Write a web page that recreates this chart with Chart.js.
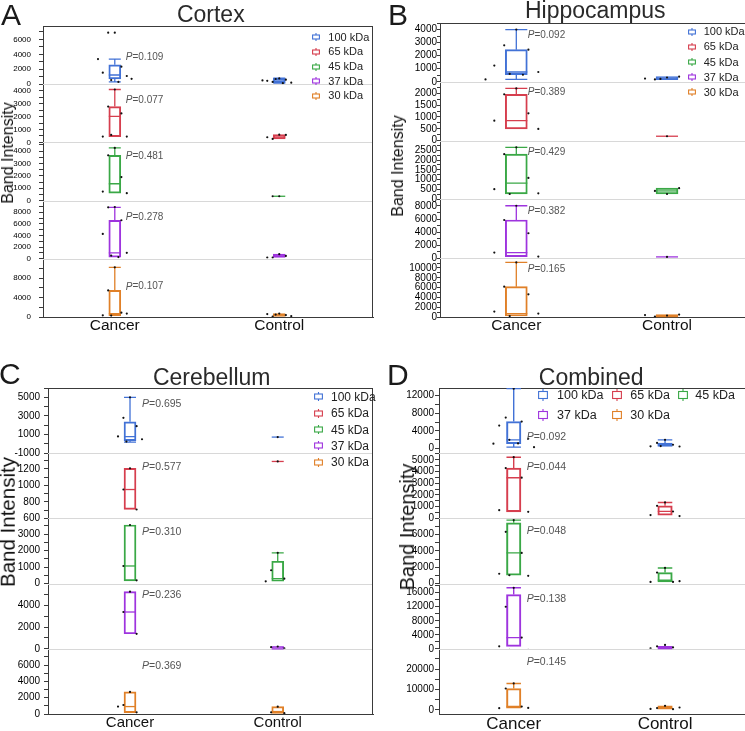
<!DOCTYPE html>
<html>
<head>
<meta charset="utf-8">
<script src="https://cdn.jsdelivr.net/npm/chart.js@4/dist/chart.umd.min.js"></script>
<style>
html,body{margin:0;padding:0;background:#fff;width:745px;height:731px;overflow:hidden;font-family:"Liberation Sans",Arial,Helvetica,sans-serif;}
.abs{position:absolute;white-space:nowrap;color:#222;line-height:1;}
canvas{position:absolute;}
.title{transform:translateX(-50%);}
.ytitle{transform:translate(-50%,-50%) rotate(-90deg);}
</style>
</head>
<body>
<div id="root"></div>
<script>
// ---------------- DATA ----------------
const BANDS = ['100 kDa', '65 kDa', '45 kDa', '37 kDa', '30 kDa'];
const GROUPS = ['Cancer', 'Control'];

// box stats: [min, q1, median, q3, max] per band
// Cortex
const cortexCancer = [[310,720,1230,2590,3370],[450,450,2015,2770,4090],[600,600,1360,3660,4250],[290,290,1000,6615,8840],[290,290,700,5470,10230]];
const cortexControl = [[140,200,450,780,800],[270,270,420,600,600],[350,350,350,350,350],[220,220,500,800,800],[100,100,400,700,700]];
const cortexCancerPts = [[6900,6900,2350,1550,1100,550,300,3370,720],[4090,2770,2240,450,450,580],[4250,3660,1900,730,600],[8890,8840,6615,4270,1020,560,290],[10230,5470,900,350,700,300]];
const cortexControlPts = [[780,300,600,450,200,700,140,500],[600,270,580,400],[350,350],[800,220,500,220],[700,100,400,600,200,500]];
const cortexP = ['0.109','0.077','0.481','0.278','0.107'];
const cortexYMin = [0,0,0,0,0];
const cortexYMax = [7800,4500,4700,9990,11990];
const cortexTickStep = [1000,500,500,1000,2000];
const cortexLabelStep = [2000,1000,1000,2000,4000];
const cortexLabelBase = [0,0,0,0,0];

// Hippocampus
const hippoCancer = [[180,540,750,2460,4000],[495,495,845,1960,2210],[275,275,830,2300,2650],[250,250,860,5850,8030],[200,200,700,6190,11130]];
const hippoControl = [[180,200,300,390,390],[185,185,185,185,185],[275,275,430,570,570],[200,200,200,200,200],[100,150,300,500,500]];
const hippoCancerPts = [[4000,2790,2460,1240,750,600,540,180],[2210,1960,1155,845,495],[2650,2300,1090,520,310,275],[8030,5850,3820,860,250],[11130,6190,4620,1100,700,200]];
const hippoControlPts = [[330,180,390,250,300,220],[185],[275,430,570],[200],[300,100,500,400]];
const hippoP = ['0.092','0.389','0.429','0.382','0.165'];
const hippoYMin = [0,0,0,0,0];
const hippoYMax = [4500,2490,2990,9000,11990];
const hippoTickStep = [500,250,250,1000,1000];
const hippoLabelStep = [1000,500,500,2000,2000];
const hippoLabelBase = [0,0,0,0,0];

// Cerebellum
const cereCancer = [[180,350,780,2370,5000],[708,708,950,1207,1207],[160,160,1070,3560,3560],[1380,1380,3380,5250,5250],[160,160,910,2710,2710]];
const cereControl = [[730,730,730,730,730],[1290,1290,1290,1290,1290],[140,140,300,1360,1870],[0,50,150,210,210],[0,0,300,910,910]];
const cereCancerPts = [[5000,2800,1900,800,500,250],[1207,950,708],[3560,1070,200],[5250,3380,1380,-250,-250],[2700,1100,200,910]];
const cereControlPts = [[730],[1290],[1870,810,300,140],[210,150,50],[900,200,100]];
const cereP = ['0.695','0.577','0.310','0.236','0.369'];
const cereYMin = [-1000,600,0,0,0];
const cereYMax = [6000,1390,3960,5990,7990];
const cereTickStep = [1000,100,500,1000,1000];
const cereLabelStep = [2000,200,1000,2000,2000];
const cereLabelBase = [1000,0,0,0,0];

// Combined
const combCancer = [[360,1130,2000,6100,13500],[560,560,3470,4290,5220],[1020,1020,3750,7420,7750],[650,650,3200,15500,17400],[850,850,1650,10500,13000]];
const combControl = [[550,550,900,1300,2000],[280,280,600,1070,1360],[200,200,400,1350,1910],[100,150,400,700,700],[350,350,900,2000,2000]];
const combCancerPts = [[13500,7000,6100,5200,2250,2000,1200,1130,350],[5220,4290,3470,700,560],[7750,6320,3750,1200,950,1020],[17400,12000,3200,700,-300,-300],[13000,10500,1650,850,1000]];
const combControlPts = [[2000,1300,900,550,500,600],[1360,1070,590,280,200],[1910,1350,200,200,300],[1100,700,400,150],[2000,900,350,500,1200]];
const combP = ['0.092','0.044','0.048','0.138','0.145'];
const combYMin = [-1000,0,0,0,-2000];
const combYMax = [13650,5560,7960,18600,29990];
const combTickStep = [2000,500,1000,2000,5000];
const combLabelStep = [4000,1000,2000,4000,10000];
const combLabelBase = [0,0,0,0,0];

// ---------------- STYLE ----------------
const COLORS = ['rgb(66,114,214)','rgb(214,62,78)','rgb(58,168,70)','rgb(158,52,222)','rgb(224,128,40)'];
const FRAME = '#3a3a3a';
const SEP = '#d8d8d8';
const JITTER = [0,-0.55,0.55,-1.0,1.0,-0.3,0.3,-1.4,1.4];
Chart.defaults.font.family = "'Liberation Sans', Arial, Helvetica, sans-serif";
Chart.defaults.animation = false;

const panels = [
  { letter:'A', title:'Cortex', cancer:cortexCancer, control:cortexControl, cancerPts:cortexCancerPts, controlPts:cortexControlPts,
    p:cortexP, yMin:cortexYMin, yMax:cortexYMax, tickStep:cortexTickStep, labelStep:cortexLabelStep, labelBase:cortexLabelBase,
    S:{left:0,top:0,w:380,h:340,pad:{left:0,top:26,right:7,bottom:0},yw:43,xh:23,xMin:0.5635,xMax:2.570,areaW:330,bw:12,lw:1.3,
       tickFont:8,tickPad:8,tickLen:4,xFont:15.5,xPad:-1,pFont:10,pdx:11,pfrac:[0.53,0.27,0.23,0.28,0.48],rightBorder:true,
       letterPos:[1,-0.5],titlePos:[210.8,2.8],titleF:23,ytitle:[7.5,153,16],
       legend:{f:11,iw:8,ih:8,items:[[316,328.3,37.3],[316,328.3,51.9],[316,328.3,66.5],[316,328.3,81.1],[316,328.3,95.7]]}}},
  { letter:'B', title:'Hippocampus', cancer:hippoCancer, control:hippoControl, cancerPts:hippoCancerPts, controlPts:hippoControlPts,
    p:hippoP, yMin:hippoYMin, yMax:hippoYMax, tickStep:hippoTickStep, labelStep:hippoLabelStep, labelBase:hippoLabelBase,
    S:{left:372,top:0,w:378,h:340,pad:{left:0,top:23,right:4,bottom:0},yw:68,xh:23,xMin:0.4937,xMax:2.524,areaW:306,bw:22,lw:1.3,
       tickFont:10,tickPad:0,tickLen:3,xFont:15.5,xPad:-1,pFont:10,pdx:11.4,pfrac:[0.21,0.17,0.19,0.2,0.18],rightBorder:false,
       letterPos:[388,-0.5],titlePos:[595.3,-1.5],titleF:23,ytitle:[398,166,16],
       legend:{f:11,iw:8,ih:8,items:[[692,703.7,31.7],[692,703.7,46.9],[692,703.7,62],[692,703.7,77.2],[692,703.7,92.3]]}}},
  { letter:'C', title:'Cerebellum', cancer:cereCancer, control:cereControl, cancerPts:cereCancerPts, controlPts:cereControlPts,
    p:cereP, yMin:cereYMin, yMax:cereYMax, tickStep:cereTickStep, labelStep:cereLabelStep, labelBase:cereLabelBase,
    S:{left:0,top:340,w:380,h:391,pad:{left:0,top:48,right:7,bottom:0},yw:48,xh:17,xMin:0.4448,xMax:2.645,areaW:325,bw:12,lw:1.3,
       tickFont:10,tickPad:4,tickLen:4,xFont:15,xPad:0,pFont:10.5,pdx:12,pfrac:[0.24,0.21,0.205,0.175,0.26],rightBorder:true,
       letterPos:[-1,358.9],titlePos:[211.7,365.5],titleF:23,ytitle:[8,522,20.5],
       legend:{f:12,iw:9,ih:9,items:[[318.3,331,396.7],[318.3,331,413.1],[318.3,331,429.5],[318.3,331,445.9],[318.3,331,462.3]]}}},
  { letter:'D', title:'Combined', cancer:combCancer, control:combControl, cancerPts:combCancerPts, controlPts:combControlPts,
    p:combP, yMin:combYMin, yMax:combYMax, tickStep:combTickStep, labelStep:combLabelStep, labelBase:combLabelBase,
    S:{left:372,top:340,w:378,h:391,pad:{left:0,top:48,right:4,bottom:0},yw:67,xh:17,xMin:0.5063,xMax:2.535,areaW:307,bw:14.5,lw:1.4,
       tickFont:10,tickPad:1,tickLen:4,xFont:17,xPad:0,pFont:10.5,pdx:13,pfrac:[0.76,0.22,0.19,0.24,0.2],rightBorder:false,
       letterPos:[387,359.6],titlePos:[591.2,365.5],titleF:23,ytitle:[407,527,20],
       legend:{f:12.5,iw:10,ih:12,items:[[543,557,395],[617,630.3,395],[683,695.3,395],[543,557,415],[617,630.3,415]]}}}
];

// ---------------- PLUGIN ----------------
const boxPlugin = {
  id: 'boxes',
  beforeDatasetsDraw(chart, args, o) {
    const {ctx, chartArea: a} = chart;
    ctx.save();
    ctx.strokeStyle = SEP; ctx.lineWidth = 1;
    for (let i = 0; i < BANDS.length - 1; i++) {
      const y = Math.round(chart.scales['y' + i].bottom) + 0.5;
      ctx.beginPath(); ctx.moveTo(a.left, y); ctx.lineTo(a.right, y); ctx.stroke();
    }
    ctx.strokeStyle = FRAME; ctx.lineWidth = 1;
    ctx.beginPath();
    const t = Math.round(a.top) + 0.5;
    ctx.moveTo(a.left, t); ctx.lineTo(a.right, t);
    if (o.rightBorder) { const r = Math.round(a.right) - 0.5; ctx.moveTo(r, a.top); ctx.lineTo(r, a.bottom); }
    ctx.stroke();
    ctx.restore();
  },
  afterDatasetDraw(chart, args) {
    const ds = chart.data.datasets[args.index];
    if (!ds.boxStats) return;
    const ctx = chart.ctx, ys = chart.scales[ds.yAxisID];
    const p = v => ys.getPixelForValue(v);
    ctx.save();
    ctx.strokeStyle = ds.borderColor; ctx.lineWidth = ds.borderWidth;
    args.meta.data.forEach((bar, j) => {
      const [mn, q1, md, q3, mx] = ds.boxStats[j];
      const x = bar.x, hw = bar.width / 2;
      ctx.beginPath();
      if (mx > q3) { ctx.moveTo(x, p(q3)); ctx.lineTo(x, p(mx)); ctx.moveTo(x - hw, p(mx)); ctx.lineTo(x + hw, p(mx)); }
      if (mn < q1) { ctx.moveTo(x, p(q1)); ctx.lineTo(x, p(mn)); ctx.moveTo(x - hw, p(mn)); ctx.lineTo(x + hw, p(mn)); }
      ctx.moveTo(x - hw, p(md)); ctx.lineTo(x + hw, p(md));
      ctx.stroke();
    });
    ctx.restore();
  },
  afterDatasetsDraw(chart, args, o) {
    const ctx = chart.ctx, xs = chart.scales.x;
    ctx.save();
    ctx.fillStyle = '#555'; ctx.textBaseline = 'middle'; ctx.textAlign = 'left';
    const fam = Chart.defaults.font.family;
    o.pvals.forEach((pv, i) => {
      const ys = chart.scales['y' + i];
      const x = xs.getPixelForValue(1) + o.pdx;
      const y = ys.top + o.pfrac[i] * (ys.bottom - ys.top);
      ctx.font = `italic ${o.pFont}px ${fam}`;
      ctx.fillText('P', x, y);
      const w = ctx.measureText('P').width;
      ctx.font = `${o.pFont}px ${fam}`;
      ctx.fillText('=' + pv, x + w, y);
    });
    ctx.restore();
  }
};

function makeTicks(min, max, step) {
  const out = [];
  for (let v = Math.ceil(min / step - 1e-9) * step; v <= max + 1e-9; v += step) out.push({value: Math.round(v)});
  return out;
}

function icon(color, w, h) {
  const bh = Math.round(h * 0.55), by = (h - bh) / 2;
  return `<svg width="${w}" height="${h}" viewBox="0 0 ${w} ${h}" style="position:absolute;left:0;top:0;overflow:visible">` +
    `<line x1="${w/2}" y1="0" x2="${w/2}" y2="${h}" stroke="${color}" stroke-width="1.1"/>` +
    `<rect x="0.6" y="${by}" width="${w-1.2}" height="${bh}" fill="#fff" stroke="${color}" stroke-width="1.1"/></svg>`;
}

const root = document.getElementById('root');
function addDiv(cls, text, css) {
  const d = document.createElement('div');
  d.className = 'abs ' + cls; d.textContent = text; d.style.cssText = css;
  root.appendChild(d); return d;
}

panels.forEach((P, pi) => {
  const S = P.S;
  const cv = document.createElement('canvas');
  cv.width = S.w; cv.height = S.h;
  cv.style.left = S.left + 'px'; cv.style.top = S.top + 'px';
  cv.style.width = S.w + 'px'; cv.style.height = S.h + 'px';
  root.appendChild(cv);

  const unitPx = S.areaW / (S.xMax - S.xMin);
  const datasets = [];
  BANDS.forEach((b, i) => {
    const pts = [];
    [P.cancerPts[i], P.controlPts[i]].forEach((arr, g) => arr.forEach((v, k) => {
      pts.push({x: g + 1 + JITTER[k % JITTER.length] * S.bw / unitPx, y: v});
    }));
    datasets.push({type: 'scatter', label: b + ' values', yAxisID: 'y' + i, xAxisID: 'x', data: pts,
      pointRadius: 1.1, pointBackgroundColor: '#111', pointBorderWidth: 0, pointHoverRadius: 1.1, order: 0});
  });
  BANDS.forEach((b, i) => {
    datasets.push({type: 'bar', label: b, yAxisID: 'y' + i, xAxisID: 'x', grouped: false,
      data: [{x: 1, y: [P.cancer[i][1], P.cancer[i][3]]}, {x: 2, y: [P.control[i][1], P.control[i][3]]}],
      boxStats: [P.cancer[i], P.control[i]],
      borderColor: COLORS[i], backgroundColor: 'rgba(255,255,255,0)', borderWidth: S.lw, borderSkipped: false,
      barThickness: S.bw, order: 1});
  });

  const scales = {
    x: {type: 'linear', position: 'bottom', min: S.xMin, max: S.xMax, offset: false, bounds: 'data',
      afterBuildTicks: s => { s.ticks = GROUPS.map((g, i) => ({value: i + 1})); },
      afterFit: s => { s.height = S.xh; },
      ticks: {callback: v => GROUPS[Math.round(v) - 1], font: {size: S.xFont}, color: '#111', padding: S.xPad, autoSkip: false, maxRotation: 0},
      grid: {display: true, drawOnChartArea: false, drawTicks: false, offset: false},
      border: {display: true, color: FRAME, width: 1}}
  };
  BANDS.forEach((b, i) => {
    scales['y' + i] = {type: 'linear', position: 'left', stack: 'bands', stackWeight: 1, weight: BANDS.length - i,
      min: P.yMin[i], max: P.yMax[i], bounds: 'data', offset: false,
      afterBuildTicks: s => { s.ticks = makeTicks(P.yMin[i], P.yMax[i], P.tickStep[i]); },
      afterFit: s => { s.width = S.yw; },
      ticks: {autoSkip: false, font: {size: S.tickFont}, color: '#000', padding: S.tickPad,
        callback: v => (((v - P.labelBase[i]) % P.labelStep[i]) === 0 ? String(v) : '')},
      grid: {drawOnChartArea: false, drawTicks: true, tickLength: S.tickLen, color: FRAME, tickColor: FRAME},
      border: {display: true, color: FRAME, width: 1}};
  });

  new Chart(cv, {
    type: 'bar',
    data: {datasets},
    options: {
      responsive: false, animation: false,
      layout: {padding: S.pad},
      scales,
      plugins: {legend: {display: false}, tooltip: {enabled: false},
        boxes: {pvals: P.p, pdx: S.pdx, pfrac: S.pfrac, pFont: S.pFont, rightBorder: S.rightBorder}}
    },
    plugins: [boxPlugin]
  });

  // text overlays
  addDiv('', P.letter, `left:${S.letterPos[0]}px;top:${S.letterPos[1]}px;font-size:30px;color:#1a1a1a;`);
  addDiv('title', P.title, `left:${S.titlePos[0]}px;top:${S.titlePos[1]}px;font-size:${S.titleF}px;color:#2a2a2a;`);
  addDiv('ytitle', 'Band Intensity', `left:${S.ytitle[0]}px;top:${S.ytitle[1]}px;font-size:${S.ytitle[2]}px;color:#111;`);
  const L = S.legend;
  BANDS.forEach((b, i) => {
    const [cx, tx, cy] = L.items[i];
    const ic = document.createElement('div');
    ic.className = 'abs';
    ic.style.cssText = `left:${cx - L.iw / 2}px;top:${cy - L.ih / 2}px;width:${L.iw}px;height:${L.ih}px;`;
    ic.innerHTML = icon(COLORS[i], L.iw, L.ih);
    root.appendChild(ic);
    addDiv('', b, `left:${tx}px;top:${cy - L.f / 2}px;font-size:${L.f}px;color:#222;`);
  });
});
</script>
</body>
</html>
